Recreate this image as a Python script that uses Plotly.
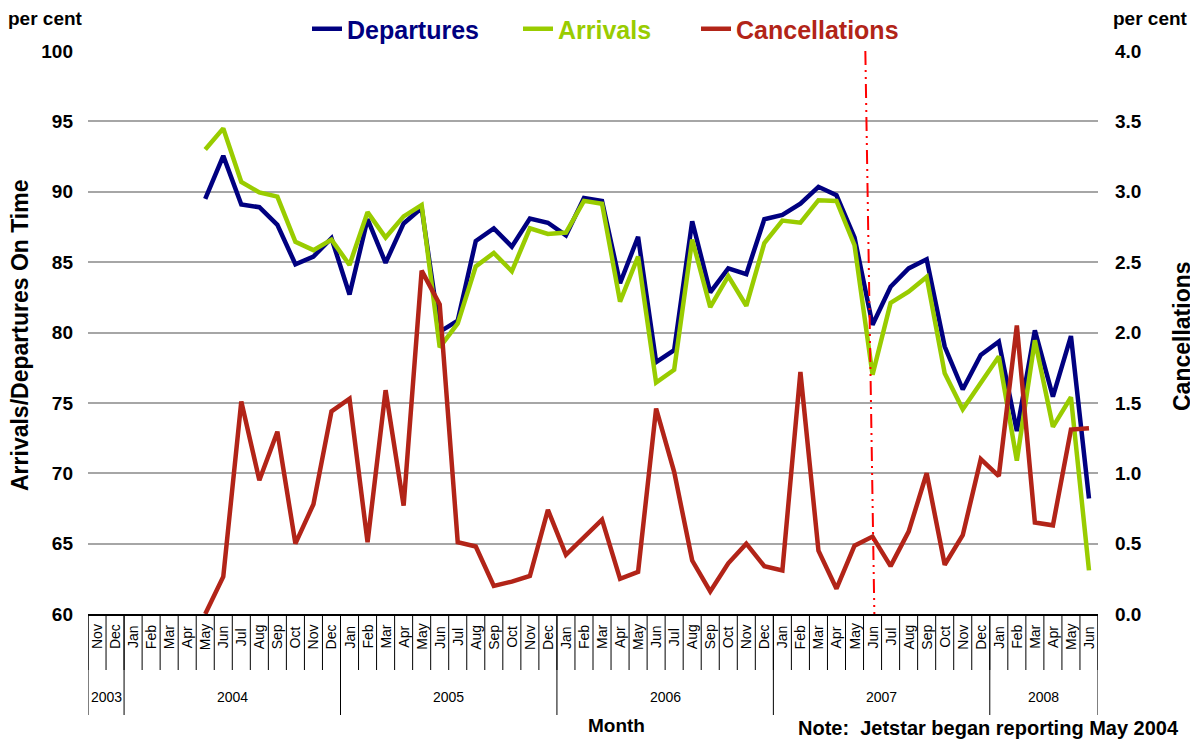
import plotly.graph_objects as go

# ---------------- data ----------------
MONTH_NAMES = ["Jan", "Feb", "Mar", "Apr", "May", "Jun",
               "Jul", "Aug", "Sep", "Oct", "Nov", "Dec"]
period_years = [2003, 2004, 2005, 2006, 2007, 2008]
period_first_month = [11, 1, 1, 1, 1, 1]
period_last_month = [12, 12, 12, 12, 12, 6]

series_start = (2004, "May")     # Jetstar began reporting May 2004
jetstar_marker = (2007, "Jun")   # dash-dot reference line

departures = [
    89.5, 92.55, 89.1, 88.9, 87.65, 84.85, 85.4, 86.7,                       # 2004 May-Dec
    82.7, 88.05, 84.95, 87.75, 88.85, 80.05, 80.85, 86.5, 87.4, 86.1, 88.1, 87.8,   # 2005
    86.9, 89.55, 89.35, 83.5, 86.8, 77.9, 78.75, 87.9, 82.85, 84.55, 84.15, 88.05,  # 2006
    88.35, 89.15, 90.35, 89.75, 86.75, 80.55, 83.25, 84.55, 85.2, 79.0, 75.95, 78.4, # 2007
    79.35, 73.0, 80.15, 75.45, 79.75, 68.2,                                 # 2008 Jan-Jun
]
arrivals = [
    93.0, 94.5, 90.7, 89.95, 89.65, 86.45, 85.85, 86.6,
    84.8, 88.55, 86.75, 88.25, 89.05, 78.95, 80.65, 84.7, 85.65, 84.35, 87.4, 87.0,
    87.1, 89.35, 89.15, 82.2, 85.4, 76.45, 77.35, 86.6, 81.8, 84.0, 81.9, 86.35,
    87.95, 87.8, 89.4, 89.35, 86.2, 77.0, 82.1, 82.9, 83.95, 77.1, 74.55, 76.4,
    78.3, 70.9, 79.45, 73.3, 75.4, 63.1,
]
cancellations = [
    0.0, 0.265, 1.51, 0.95, 1.295, 0.50, 0.78, 1.44,
    1.53, 0.51, 1.59, 0.77, 2.44, 2.2, 0.51, 0.48, 0.20, 0.23, 0.27, 0.74,
    0.42, 0.545, 0.67, 0.25, 0.30, 1.46, 1.01, 0.38, 0.16, 0.36, 0.50, 0.34,
    0.31, 1.72, 0.45, 0.18, 0.485, 0.55, 0.34, 0.585, 1.00, 0.35, 0.56, 1.10,
    0.98, 2.05, 0.65, 0.63, 1.31, 1.32,
]

left_ticks = [60, 65, 70, 75, 80, 85, 90, 95, 100]
right_ticks = [0.0, 0.5, 1.0, 1.5, 2.0, 2.5, 3.0, 3.5, 4.0]

# ---------------- styling ----------------
NAVY = "#000080"
GREEN = "#99CC00"
RED = "#B22418"
FONT = "Arial, 'Liberation Sans', sans-serif"
LW = 4.5

W, H = 1190, 732
ML, MR, MT, MB = 80, 100, 43, 126
PW = W - ML - MR

# ---------------- derived categories ----------------
month_labels, month_years = [], []
for yr, f, l in zip(period_years, period_first_month, period_last_month):
    for m in range(f, l + 1):
        month_labels.append(MONTH_NAMES[m - 1])
        month_years.append(yr)
n = len(month_labels)
xs = list(range(n))


def idx_of(ym):
    return next(i for i in range(n) if month_years[i] == ym[0] and month_labels[i] == ym[1])


start = idx_of(series_start)


def pad(v):
    return [None] * start + list(v) + [None] * (n - start - len(v))


legend_font = dict(family=FONT, size=25, weight="bold")
legend_x = [299, 510, 688]   # px of each legend box left edge
legend_names = ["legend", "legend2", "legend3"]

fig = go.Figure()
fig.add_trace(go.Scatter(x=xs, y=pad(departures), mode="lines",
                         line=dict(color=NAVY, width=LW), legend="legend",
                         name=f"<span style='color:{NAVY}'>Departures</span>"))
fig.add_trace(go.Scatter(x=xs, y=pad(arrivals), mode="lines",
                         line=dict(color=GREEN, width=LW), legend="legend2",
                         name=f"<span style='color:{GREEN}'>Arrivals</span>"))
fig.add_trace(go.Scatter(x=xs, y=pad(cancellations), mode="lines", yaxis="y2",
                         line=dict(color=RED, width=LW), legend="legend3",
                         name=f"<span style='color:{RED}'>Cancellations</span>"))

shapes = []
for b in range(n + 1):
    shapes.append(dict(type="line", xref="x", yref="paper", x0=b - 0.5, x1=b - 0.5,
                       ysizemode="pixel", yanchor=0, y0=0, y1=-56,
                       line=dict(color="black", width=1)))
annotations = []
pos = 0
for yr, f, l in zip(period_years, period_first_month, period_last_month):
    cnt = l - f + 1
    shapes.append(dict(type="line", xref="x", yref="paper", x0=pos - 0.5, x1=pos - 0.5,
                       ysizemode="pixel", yanchor=0, y0=0, y1=-101,
                       line=dict(color="black", width=1)))
    annotations.append(dict(x=pos + (cnt - 1) / 2, xref="x", y=0, yref="paper", yshift=-83,
                            xanchor="center", yanchor="middle",
                            text=str(yr), showarrow=False,
                            font=dict(size=14, color="black", family=FONT)))
    pos += cnt
shapes.append(dict(type="line", xref="x", yref="paper", x0=n - 0.5, x1=n - 0.5,
                   ysizemode="pixel", yanchor=0, y0=0, y1=-101,
                   line=dict(color="black", width=1)))

for i, m in enumerate(month_labels):
    annotations.append(dict(x=i, xref="x", y=0, yref="paper", yshift=-23,
                            xanchor="center", yanchor="middle",
                            text=m, textangle=-90, showarrow=False,
                            font=dict(size=14, color="black", family=FONT)))

# Jetstar reference line
j = idx_of(jetstar_marker)
shapes.append(dict(type="line", xref="x", yref="y", x0=j - 0.4, x1=j + 0.1,
                   y0=left_ticks[-1], y1=left_ticks[0],
                   line=dict(color="#FF0000", width=2, dash="14px,5px,2px,5px,2px,5px")))

bold = dict(family=FONT, color="black", size=19, weight="bold")
annotations += [
    dict(x=0, xref="paper", xshift=-43, y=1, yref="paper", yshift=33, text="per cent",
         xanchor="center", yanchor="middle", showarrow=False, font=bold),
    dict(x=1, xref="paper", xshift=52, y=1, yref="paper", yshift=33, text="per cent",
         xanchor="center", yanchor="middle", showarrow=False, font=bold),
    dict(x=0, xref="paper", xshift=-68, y=0.5, yref="paper", yshift=-3.5,
         xanchor="center", yanchor="middle",
         text="Arrivals/Departures On Time", textangle=-90, showarrow=False,
         font=dict(family=FONT, color="black", size=23, weight="bold")),
    dict(x=1, xref="paper", xshift=84, y=0.5, yref="paper", yshift=-3.5,
         xanchor="center", yanchor="middle",
         text="Cancellations", textangle=-90, showarrow=False,
         font=dict(family=FONT, color="black", size=23, weight="bold")),
    dict(x=(608 - ML) / PW, xref="paper", y=0, yref="paper", yshift=-111,
         xanchor="center", yanchor="middle",
         text="Month", showarrow=False, font=bold),
    dict(x=1, xref="paper", xshift=83, xanchor="right", y=0, yref="paper", yshift=-114,
         yanchor="middle",
         text="Note:  Jetstar began reporting May 2004", showarrow=False,
         font=dict(family=FONT, color="black", size=20, weight="bold")),
]

legends = {}
for name, lx in zip(legend_names, legend_x):
    legends[name] = dict(orientation="h", xref="container", yref="container",
                         x=lx / W, xanchor="left", y=1 - 21 / H, yanchor="middle",
                         font=legend_font, bgcolor="rgba(0,0,0,0)", borderwidth=0)

fig.update_layout(
    width=W, height=H,
    margin=dict(l=ML, r=MR, t=MT, b=MB, autoexpand=False),
    paper_bgcolor="white", plot_bgcolor="white",
    font=dict(family=FONT, color="black"),
    showlegend=True,
    xaxis=dict(range=[-0.5, n - 0.5], showticklabels=False, ticks="", showgrid=False,
               zeroline=False, showline=True, linecolor="black", linewidth=2),
    yaxis=dict(range=[left_ticks[0], left_ticks[-1]], tickvals=left_ticks,
               showgrid=True, gridcolor="#A6A6A6", gridwidth=1.5, zeroline=False,
               showline=False, ticks="", ticklabelstandoff=14,
               tickfont=dict(family=FONT, size=19, color="black", weight="bold")),
    yaxis2=dict(range=[right_ticks[0], right_ticks[-1]], tickvals=right_ticks,
                tickformat=".1f", overlaying="y", side="right", showgrid=False,
                zeroline=False, showline=False, ticks="", ticklabelstandoff=16,
                tickfont=dict(family=FONT, size=19, color="black", weight="bold")),
    shapes=shapes,
    annotations=annotations,
    **legends,
)

fig.write_html("out.html")
